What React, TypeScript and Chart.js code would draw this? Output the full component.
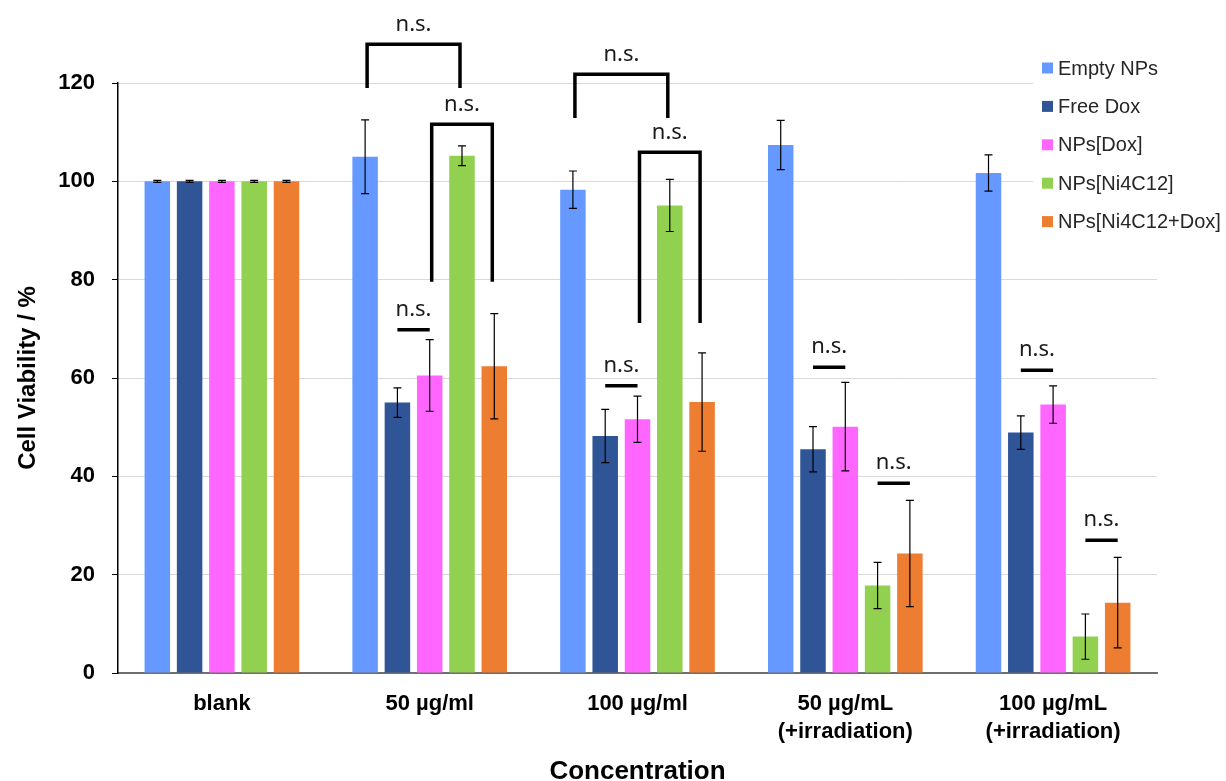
import { useEffect, useRef } from 'react';
import { Chart, registerables } from 'chart.js';

Chart.register(...registerables);

// ---------- data ----------
const categories: (string | string[])[] = [
  'blank',
  '50 µg/ml',
  '100 µg/ml',
  ['50 µg/mL', '(+irradiation)'],
  ['100 µg/mL', '(+irradiation)'],
];

const seriesNames = ['Empty NPs', 'Free Dox', 'NPs[Dox]', 'NPs[Ni4C12]', 'NPs[Ni4C12+Dox]'];
const seriesColors = ['#6699FF', '#2F5597', '#FF66FF', '#92D050', '#ED7D31'];

const emptyNPs = [100, 105.0, 98.3, 107.4, 101.7];
const freeDox = [100, 55.0, 48.2, 45.5, 48.9];
const npsDox = [100, 60.5, 51.6, 50.1, 54.6];
const npsNi = [100, 105.2, 95.1, 17.8, 7.4];
const npsNiDox = [100, 62.4, 55.1, 24.3, 14.3];

const emptyNPsErr = [0.2, 7.5, 3.8, 5.0, 3.7];
const freeDoxErr = [0.2, 3.0, 5.4, 4.6, 3.4];
const npsDoxErr = [0.2, 7.3, 4.7, 9.0, 3.8];
const npsNiErr = [0.2, 2.0, 5.3, 4.7, 4.6];
const npsNiDoxErr = [0.2, 10.7, 10.0, 10.8, 9.2];

const yTicksMin = 0;
const yTicksMax = 120;
const yTicksStep = 20;

// significance brackets (category index, bar indices, levels in % units)
const bracketCat = [1, 1, 2, 2];
const bracketFrom = [0, 2, 0, 2];
const bracketTo = [3, 4, 3, 4];
const bracketTop = [127.9, 111.6, 121.8, 105.9];
const bracketLeg = [119.0, 79.6, 112.9, 71.2];

// significance short lines
const lineCat = [1, 2, 3, 3, 4, 4];
const lineFrom = [1, 1, 1, 3, 1, 3];
const lineTo = [2, 2, 2, 4, 2, 4];
const lineLevel = [69.8, 58.4, 62.2, 38.6, 61.6, 27.0];

const sigLabel = 'n.s.';

const seriesValues = [emptyNPs, freeDox, npsDox, npsNi, npsNiDox];
const seriesErrors = [emptyNPsErr, freeDoxErr, npsDoxErr, npsNiErr, npsNiDoxErr];

const SANS = '"Liberation Sans", Arial, Helvetica, sans-serif';

const errorBarPlugin = {
  id: 'errorBars',
  afterDatasetsDraw(chart: any) {
    const ctx = chart.ctx;
    const y = chart.scales.y;
    ctx.save();
    ctx.strokeStyle = '#000';
    ctx.lineWidth = 1.2;
    chart.data.datasets.forEach((ds: any, di: number) => {
      const meta = chart.getDatasetMeta(di);
      const errs = seriesErrors[di];
      meta.data.forEach((bar: any, i: number) => {
        const v = ds.data[i];
        const e = errs[i];
        const x = bar.x;
        const yt = y.getPixelForValue(v + e);
        const yb = y.getPixelForValue(v - e);
        ctx.beginPath();
        ctx.moveTo(x, yt);
        ctx.lineTo(x, yb);
        ctx.moveTo(x - 4, yt);
        ctx.lineTo(x + 4, yt);
        ctx.moveTo(x - 4, yb);
        ctx.lineTo(x + 4, yb);
        ctx.stroke();
      });
    });
    ctx.restore();
  },
};

const sigPlugin = {
  id: 'sigMarks',
  afterDraw(chart: any) {
    const ctx = chart.ctx;
    const y = chart.scales.y;
    const barX = (di: number, ci: number) => chart.getDatasetMeta(di).data[ci].x;
    ctx.save();
    ctx.strokeStyle = '#000';
    ctx.fillStyle = '#1a1a1a';
    ctx.lineWidth = 3.5;
    ctx.lineJoin = 'miter';
    ctx.lineCap = 'butt';
    ctx.font = '22px "Noto Sans", "Open Sans", sans-serif';
    ctx.textAlign = 'center';
    ctx.textBaseline = 'alphabetic';
    bracketCat.forEach((c, k) => {
      const x1 = barX(bracketFrom[k], c) + 2;
      const x2 = barX(bracketTo[k], c) - 2;
      const yt = y.getPixelForValue(bracketTop[k]);
      const yl = y.getPixelForValue(bracketLeg[k]);
      ctx.beginPath();
      ctx.moveTo(x1, yl);
      ctx.lineTo(x1, yt);
      ctx.lineTo(x2, yt);
      ctx.lineTo(x2, yl);
      ctx.stroke();
      ctx.fillText(sigLabel, (x1 + x2) / 2, yt - 13);
    });
    lineCat.forEach((c, k) => {
      const x1 = barX(lineFrom[k], c);
      const x2 = barX(lineTo[k], c);
      const yy = y.getPixelForValue(lineLevel[k]);
      ctx.beginPath();
      ctx.moveTo(x1, yy);
      ctx.lineTo(x2, yy);
      ctx.stroke();
      ctx.fillText(sigLabel, (x1 + x2) / 2, yy - 14);
    });
    ctx.restore();
  },
};

const legendPlugin = {
  id: 'cornerLegend',
  afterDraw(chart: any) {
    const ctx = chart.ctx;
    const left = chart.chartArea.right - 124;
    ctx.save();
    ctx.fillStyle = '#fff';
    ctx.fillRect(left, 48, chart.width - left, 196);
    ctx.font = `20px ${SANS}`;
    ctx.textAlign = 'left';
    ctx.textBaseline = 'middle';
    chart.data.datasets.forEach((ds: any, i: number) => {
      const cy = 68 + i * 38.4;
      ctx.fillStyle = ds.backgroundColor;
      ctx.fillRect(left + 9, cy - 5.5, 11, 11);
      ctx.fillStyle = '#262626';
      ctx.fillText(ds.label, left + 25, cy + 1);
    });
    ctx.restore();
  },
};

export default function App() {
  const ref = useRef<HTMLCanvasElement | null>(null);

  useEffect(() => {
    if (!ref.current) return;
    const chart = new Chart(ref.current, {
      type: 'bar',
      data: {
        labels: categories as any,
        datasets: seriesNames.map((name, i) => ({
          label: name,
          data: seriesValues[i],
          backgroundColor: seriesColors[i],
          borderWidth: 0,
          categoryPercentage: 0.777,
          barPercentage: 0.79,
        })),
      },
      options: {
        animation: false,
        responsive: true,
        maintainAspectRatio: false,
        layout: { padding: { top: 83, right: 69, bottom: 0, left: 0 } },
        plugins: {
          legend: { display: false },
          tooltip: { enabled: false },
        },
        scales: {
          x: {
            grid: { display: false, drawTicks: false, tickLength: 0 },
            border: { display: true, color: '#6f6f6f', width: 2 },
            ticks: {
              color: '#000',
              padding: 17,
              font: { family: SANS, size: 22, weight: 'bold', lineHeight: 1.28 },
              maxRotation: 0,
              autoSkip: false,
            },
            title: {
              display: true,
              text: 'Concentration',
              color: '#000',
              font: { family: SANS, size: 26, weight: 'bold', lineHeight: 1 },
              padding: { top: 0, bottom: -4 },
            },
            afterFit(scale: any) {
              scale.height = 108;
            },
          },
          y: {
            min: yTicksMin,
            max: yTicksMax,
            grid: { color: '#d9d9d9', lineWidth: 1, tickLength: 6, tickColor: '#000', drawTicks: true },
            border: { display: true, color: '#000', width: 1.5 },
            ticks: {
              stepSize: yTicksStep,
              color: '#000',
              padding: 17,
              font: { family: SANS, size: 22, weight: 'bold' },
            },
            title: {
              display: true,
              text: 'Cell Viability / %',
              color: '#000',
              font: { family: SANS, size: 24, weight: 'bold', lineHeight: 1 },
              padding: { top: 16, bottom: 0 },
            },
            afterFit(scale: any) {
              scale.width = 118;
            },
          },
        },
      } as any,
      plugins: [errorBarPlugin, sigPlugin, legendPlugin],
    });
    return () => chart.destroy();
  }, []);

  return (
    <div style={{ position: 'absolute', left: 0, top: 0, width: 1226, height: 781, background: '#fff' }}>
      <canvas ref={ref} style={{ display: 'block' }} />
    </div>
  );
}
